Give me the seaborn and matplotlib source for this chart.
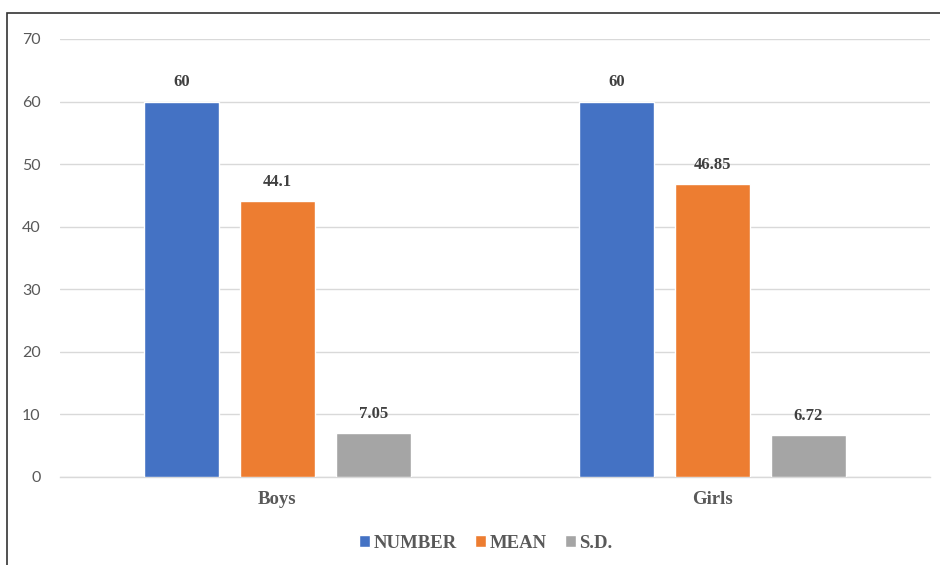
import matplotlib
matplotlib.use("Agg")
import matplotlib.pyplot as plt
from matplotlib.patches import Rectangle
import seaborn as sns
import pandas as pd

groups = ["Boys", "Girls"]
series = ["NUMBER", "MEAN", "S.D."]
number_vals = [60, 60]
mean_vals = [44.1, 46.85]
sd_vals = [7.05, 6.72]
colors = ["#4472C4", "#ED7D31", "#A5A5A5"]
y_ticks = [0, 10, 20, 30, 40, 50, 60, 70]

rows = []
for s, vals in zip(series, [number_vals, mean_vals, sd_vals]):
    for g, v in zip(groups, vals):
        rows.append({"group": g, "series": s, "value": v})
df = pd.DataFrame(rows)

sns.set_theme(style="white")
serif = ["Liberation Serif", "DejaVu Serif"]
sans = ["Lato", "DejaVu Sans"]

fig = plt.figure(figsize=(9.4, 5.65), dpi=100)
ax = fig.add_axes([60 / 940, 1 - 477 / 565, 870 / 940, (477 - 39) / 565])

sns.barplot(data=df, x="group", y="value", hue="series", order=groups,
            hue_order=series, palette=colors, width=0.662, gap=0.219,
            saturation=1, ax=ax, legend=True, zorder=3)

ax.set_xlim(-0.5, 1.5)
ax.set_ylim(0, 70)
ax.set_yticks(y_ticks)
ax.set_yticklabels([str(t) for t in y_ticks], fontfamily=sans, fontsize=11.5, color="#595959")
ax.yaxis.grid(True, color="#D9D9D9", linewidth=1, zorder=0)
ax.set_axisbelow(True)
ax.tick_params(axis="y", length=0, pad=14)
ax.tick_params(axis="x", length=0, pad=10)
for lab in ax.get_xticklabels():
    lab.set_fontfamily(serif)
    lab.set_fontweight("bold")
    lab.set_fontsize(13.5)
    lab.set_color("#595959")
ax.set_xlabel("")
ax.set_ylabel("")
for side in ["top", "right", "left"]:
    ax.spines[side].set_visible(False)
ax.spines["bottom"].set_color("#D9D9D9")
ax.spines["bottom"].set_linewidth(1)

for cont in ax.containers:
    ax.bar_label(cont, fmt="{:g}", padding=8, fontfamily=serif, fontweight="bold",
                 fontsize=12, color="#404040")

leg = ax.get_legend()
handles = leg.legend_handles
leg.remove()
fig.legend(handles, series, loc="center", bbox_to_anchor=(486 / 940, 1 - 543 / 565),
           ncol=3, frameon=False, handlelength=0.55, handleheight=0.65, handletextpad=0.2,
           columnspacing=1.0, prop={"family": serif, "weight": "bold", "size": 13.5},
           labelcolor="#595959")

fig.patches.append(Rectangle((7 / 940, -0.1), 1.2, 1 - 13 / 565 + 0.1,
                             transform=fig.transFigure, fill=False,
                             edgecolor="#333333", linewidth=1.2))

fig.savefig("out.png", dpi=100)
